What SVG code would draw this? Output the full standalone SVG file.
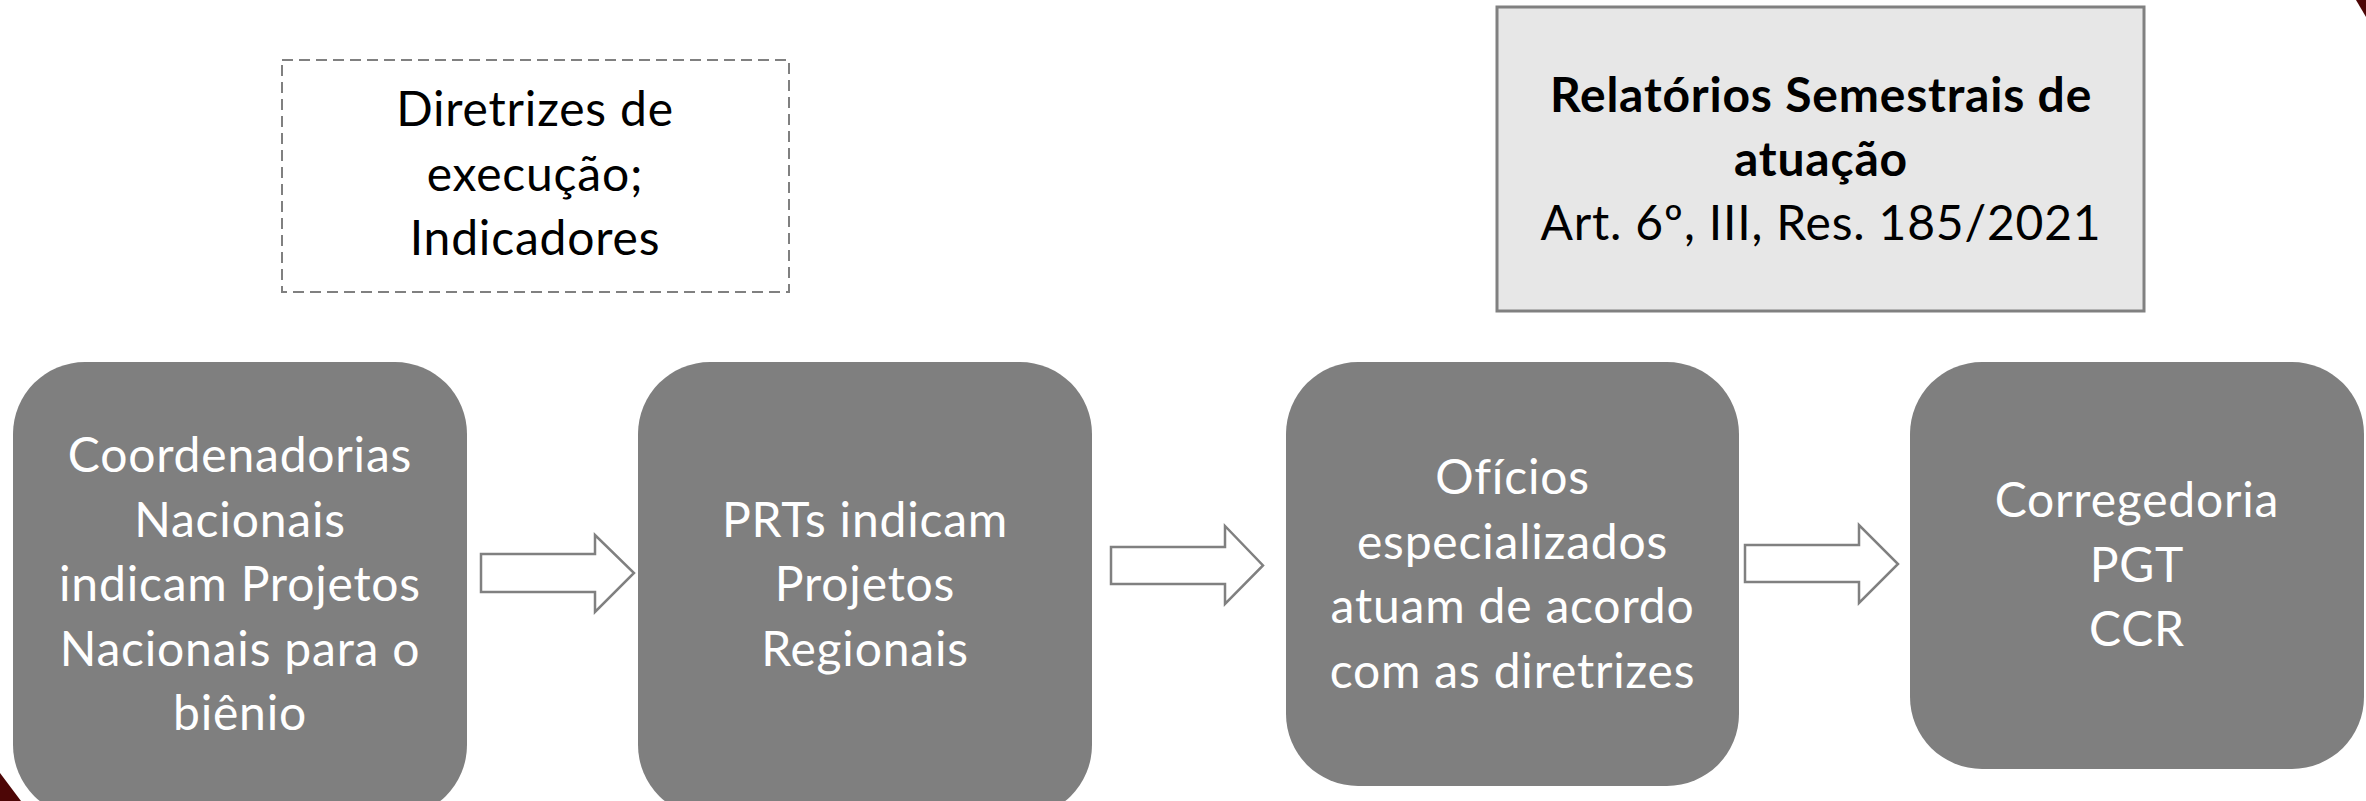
<svg xmlns="http://www.w3.org/2000/svg" width="2366" height="801" viewBox="0 0 2366 801">
  <style>
    .node { fill: #7f7f7f; }
    .nt { font-family: Lato, "Open Sans", "Liberation Sans", sans-serif; font-size: 48px; letter-spacing: 0.8px; fill: #ffffff; text-anchor: middle; }
    .bt { font-family: Lato, "Open Sans", "Liberation Sans", sans-serif; font-size: 48px; letter-spacing: 0.8px; fill: #000000; text-anchor: middle; }
    .bold { font-weight: bold; }
    .arrow { fill: #ffffff; stroke: #808080; stroke-width: 2.5; stroke-linejoin: miter; }
    .deco { fill: #4d0606; }
  </style>
  <rect width="2366" height="801" fill="#ffffff"/>

  <!-- slide decorations -->
  <polygon class="deco" points="0,773 21,801 0,801"/>
  <polygon class="deco" points="2356,0 2366,0 2366,17"/>

  <g id="diretrizes">
    <rect x="282" y="60" width="507" height="232" fill="#ffffff" stroke="#808080" stroke-width="2" stroke-dasharray="11 6"/>
    <text class="bt" x="535" y="126">Diretrizes de</text>
    <text class="bt" x="535" y="190.5">execução;</text>
    <text class="bt" x="535" y="255">Indicadores</text>
  </g>

  <g id="relatorios">
    <rect x="1497" y="7" width="647" height="304" fill="#e7e7e7" stroke="#808080" stroke-width="3"/>
    <text class="bt bold" x="1821" y="112">Relatórios Semestrais de</text>
    <text class="bt bold" x="1821" y="176">atuação</text>
    <text class="bt" x="1821" y="240">Art. 6º, III, Res. 185/2021</text>
  </g>

  <g id="coordenadorias">
    <rect class="node" x="13" y="362" width="454" height="455" rx="72" ry="72"/>
    <text class="nt" x="240" y="472">Coordenadorias</text>
    <text class="nt" x="240" y="536.5">Nacionais</text>
    <text class="nt" x="240" y="601">indicam Projetos</text>
    <text class="nt" x="240" y="665.5">Nacionais para o</text>
    <text class="nt" x="240" y="730">biênio</text>
  </g>

  <g id="prts">
    <rect class="node" x="638" y="362" width="454" height="455" rx="72" ry="72"/>
    <text class="nt" x="865" y="536.5">PRTs indicam</text>
    <text class="nt" x="865" y="601">Projetos</text>
    <text class="nt" x="865" y="665.5">Regionais</text>
  </g>

  <g id="oficios">
    <rect class="node" x="1286" y="362" width="453" height="424" rx="72" ry="72"/>
    <text class="nt" x="1512.5" y="494">Ofícios</text>
    <text class="nt" x="1512.5" y="558.5">especializados</text>
    <text class="nt" x="1512.5" y="623">atuam de acordo</text>
    <text class="nt" x="1512.5" y="687.5">com as diretrizes</text>
  </g>

  <g id="corregedoria">
    <rect class="node" x="1910" y="362" width="454" height="407" rx="72" ry="72"/>
    <text class="nt" x="2137" y="517">Corregedoria</text>
    <text class="nt" x="2137" y="581.5">PGT</text>
    <text class="nt" x="2137" y="646">CCR</text>
  </g>

  <g id="connectors">
    <polygon class="arrow" points="481,554 595,554 595,535 634,573 595,612 595,592 481,592"/>
    <polygon class="arrow" points="1111,547 1225,547 1225,526 1263,565.5 1225,604 1225,584 1111,584"/>
    <polygon class="arrow" points="1745,545 1859,545 1859,525 1898,564 1859,603 1859,582 1745,582"/>
  </g>
</svg>
